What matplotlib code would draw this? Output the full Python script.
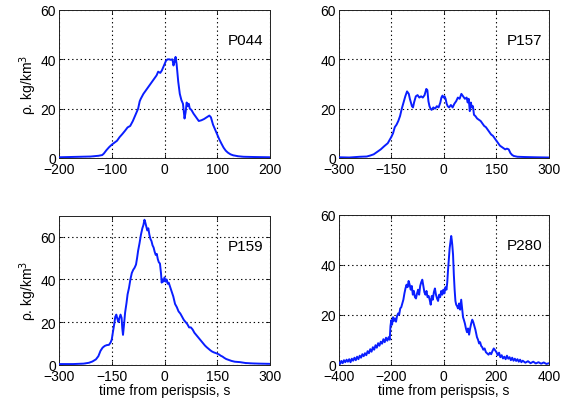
import matplotlib
matplotlib.use("Agg")
import matplotlib.pyplot as plt

plt.rcParams['font.family'] = ['Liberation Sans', 'DejaVu Sans']

titles = ["P044", "P157", "P159", "P280"]
xlims = [(-200, 200), (-300, 300), (-300, 300), (-400, 400)]
xticks = [[-200, -100, 0, 100, 200], [-300, -150, 0, 150, 300],
          [-300, -150, 0, 150, 300], [-400, -200, 0, 200, 400]]
ylims = [(0, 60), (0, 60), (0, 70), (0, 60)]
yticks = [[0, 20, 40, 60], [0, 20, 40, 60], [0, 20, 40, 60], [0, 20, 40, 60]]

p044 = [(-200, 0.3), (-180, 0.4), (-160, 0.5), (-140, 0.6), (-125, 0.9), (-118, 1.2),
        (-115, 1.8), (-110, 3.2), (-105, 4.4), (-100, 5.4), (-95, 6.2), (-90, 7.0),
        (-85, 8.5), (-80, 9.7), (-75, 11.0), (-70, 12.4), (-65, 13.0), (-60, 15.0),
        (-55, 17.5), (-50, 20.0), (-47, 23.0), (-45, 24.0), (-40, 26.0), (-35, 27.5),
        (-30, 29.0), (-25, 30.5), (-20, 32.0), (-15, 33.5), (-12, 35.0), (-8, 34.5),
        (-5, 35.5), (0, 38.0), (3, 39.5), (6, 40.0), (9, 40.0), (12, 39.8), (15, 40.0),
        (17, 37.5), (19, 39.0), (21, 41.0), (23, 38.0), (26, 31.0), (29, 26.0),
        (32, 23.5), (35, 22.0), (38, 16.0), (40, 18.5), (42, 22.5), (44, 21.0),
        (46, 22.0), (48, 20.0), (51, 19.5), (55, 18.0), (60, 16.5), (65, 15.0),
        (70, 15.3), (75, 15.8), (80, 16.5), (85, 17.2), (88, 16.5), (92, 13.5),
        (96, 11.5), (100, 9.5), (104, 7.5), (108, 5.8), (112, 4.2), (116, 3.0),
        (120, 2.2), (125, 1.5), (130, 1.1), (140, 0.7), (150, 0.5), (170, 0.4), (200, 0.3)]

p157 = [(-300, 0.3), (-270, 0.2), (-240, 0.5), (-220, 0.6), (-210, 1.0), (-200, 1.5),
        (-190, 2.5), (-180, 3.5), (-170, 4.8), (-160, 6.0), (-150, 8.5), (-145, 10.0),
        (-140, 12.5), (-135, 13.5), (-130, 15.0), (-125, 17.0), (-120, 20.0), (-115, 22.5),
        (-110, 25.0), (-105, 27.0), (-100, 26.0), (-97, 24.0), (-94, 22.5), (-91, 21.0),
        (-88, 20.5), (-85, 22.5), (-80, 25.0), (-75, 25.5), (-70, 24.5), (-65, 25.0),
        (-60, 24.5), (-55, 25.5), (-50, 28.0), (-47, 27.5), (-44, 23.0), (-41, 21.0),
        (-38, 20.0), (-35, 19.5), (-30, 20.5), (-25, 20.0), (-20, 21.0), (-15, 20.5),
        (-10, 22.5), (-7, 24.5), (-4, 25.3), (-1, 24.5), (2, 25.0), (5, 24.0), (8, 22.0),
        (11, 21.0), (15, 20.5), (20, 21.5), (25, 20.5), (30, 22.0), (35, 23.0),
        (40, 24.5), (45, 24.0), (50, 26.0), (55, 25.0), (60, 24.0), (65, 24.5),
        (68, 22.5), (71, 24.0), (74, 19.0), (77, 22.5), (80, 20.5), (83, 21.0),
        (86, 17.5), (90, 17.0), (95, 16.0), (100, 15.5), (105, 15.0), (110, 14.0),
        (115, 13.0), (120, 12.5), (125, 11.5), (130, 10.5), (135, 9.5), (140, 9.0),
        (145, 8.0), (150, 7.0), (155, 6.0), (160, 5.0), (165, 4.5), (170, 4.0),
        (175, 3.5), (180, 3.8), (185, 3.5), (190, 2.0), (195, 1.2), (200, 0.8),
        (210, 0.5), (230, 0.4), (260, 0.3), (300, 0.2)]

p159 = [(-300, 0.3), (-260, 0.3), (-230, 0.5), (-215, 0.9), (-205, 1.5), (-195, 2.5),
        (-188, 4.0), (-182, 6.5), (-176, 8.0), (-170, 8.8), (-164, 9.2), (-158, 9.3),
        (-153, 10.5), (-150, 11.8), (-146, 16.0), (-143, 19.0), (-140, 22.5), (-137, 23.5),
        (-134, 21.5), (-131, 20.0), (-128, 22.0), (-125, 23.5), (-122, 22.0), (-120, 17.0),
        (-118, 14.0), (-115, 19.0), (-112, 24.5), (-108, 29.0), (-105, 33.0), (-101, 36.0),
        (-97, 40.0), (-93, 43.0), (-89, 44.5), (-85, 45.5), (-81, 47.0), (-78, 50.0),
        (-75, 53.5), (-71, 57.0), (-67, 61.0), (-63, 64.0), (-60, 65.5), (-57, 68.0),
        (-55, 67.0), (-52, 65.0), (-49, 63.0), (-46, 64.0), (-43, 61.0), (-40, 59.0),
        (-37, 58.0), (-34, 56.0), (-31, 55.0), (-28, 53.0), (-25, 51.5), (-22, 52.0),
        (-19, 49.5), (-16, 48.0), (-13, 47.5), (-10, 43.0), (-8, 38.5), (-6, 40.0),
        (-3, 39.0), (0, 41.0), (3, 39.0), (6, 40.0), (9, 38.0), (12, 38.5), (15, 37.0),
        (18, 35.5), (21, 34.0), (25, 32.0), (30, 28.5), (35, 27.0), (40, 25.0),
        (45, 24.0), (50, 22.5), (55, 21.0), (60, 20.0), (65, 19.0), (70, 17.5),
        (75, 17.5), (80, 16.5), (85, 15.0), (90, 14.0), (95, 13.0), (100, 12.0),
        (105, 11.0), (110, 10.0), (115, 9.0), (120, 8.2), (125, 7.5), (130, 6.8),
        (135, 6.2), (140, 5.8), (145, 5.5), (150, 5.2), (155, 4.8), (160, 4.2),
        (165, 3.8), (170, 3.2), (175, 2.7), (180, 2.4), (190, 1.8), (200, 1.4),
        (215, 1.2), (230, 0.8), (250, 0.6), (270, 0.5), (300, 0.4)]

p280 = [(-400, 1.0), (-395, 0.3), (-390, 1.5), (-385, 0.6), (-380, 1.8), (-375, 1.0),
        (-370, 2.0), (-365, 1.2), (-360, 2.2), (-355, 1.0), (-350, 2.4), (-345, 1.6),
        (-340, 2.8), (-335, 1.8), (-330, 3.2), (-325, 2.2), (-320, 3.6), (-315, 2.8),
        (-310, 4.2), (-305, 3.4), (-300, 4.6), (-295, 3.8), (-290, 5.4), (-285, 4.6),
        (-280, 6.2), (-275, 5.2), (-270, 7.0), (-265, 6.0), (-260, 7.8), (-255, 6.8),
        (-250, 8.6), (-245, 7.6), (-240, 9.2), (-235, 8.4), (-230, 10.2), (-225, 9.0),
        (-220, 10.8), (-215, 9.6), (-210, 11.0), (-206, 10.0), (-203, 15.5), (-200, 17.8),
        (-197, 16.0), (-193, 19.0), (-190, 17.5), (-186, 18.5), (-182, 17.2), (-178, 19.5),
        (-174, 20.5), (-170, 20.0), (-166, 22.5), (-162, 23.0), (-158, 24.5), (-154, 26.0),
        (-150, 28.5), (-146, 30.5), (-142, 32.0), (-138, 31.0), (-134, 33.5), (-130, 32.0),
        (-126, 30.0), (-122, 31.5), (-118, 28.0), (-114, 29.5), (-110, 27.0), (-106, 26.5),
        (-102, 28.5), (-98, 30.0), (-94, 28.0), (-90, 31.5), (-86, 33.0), (-82, 34.0),
        (-78, 31.5), (-74, 29.0), (-70, 28.0), (-66, 29.5), (-62, 27.0), (-58, 27.5),
        (-54, 26.0), (-50, 24.0), (-46, 27.5), (-42, 26.0), (-38, 29.0), (-34, 30.5),
        (-30, 28.0), (-26, 26.5), (-22, 25.5), (-18, 28.0), (-14, 27.0), (-10, 29.5),
        (-6, 28.0), (-2, 30.0), (2, 28.5), (6, 31.0), (10, 30.0), (13, 33.0), (16, 38.0),
        (19, 42.0), (22, 46.5), (25, 49.0), (28, 51.5), (30, 50.0), (32, 48.0),
        (35, 44.0), (38, 36.0), (41, 30.0), (44, 25.5), (47, 24.0), (50, 23.5),
        (54, 22.5), (58, 24.5), (62, 22.0), (66, 26.0), (70, 22.0), (73, 19.0),
        (76, 18.0), (80, 16.5), (84, 14.5), (88, 13.0), (92, 14.5), (96, 12.0),
        (100, 14.5), (104, 16.5), (108, 18.0), (112, 17.0), (116, 15.5), (120, 14.0),
        (123, 12.5), (126, 11.0), (130, 10.0), (134, 8.5), (138, 9.0), (142, 7.5),
        (146, 7.0), (150, 6.0), (155, 6.5), (160, 5.0), (165, 4.5), (170, 4.0),
        (175, 4.8), (180, 4.2), (185, 5.5), (190, 6.5), (195, 5.8), (200, 5.0),
        (205, 3.8), (210, 4.8), (215, 3.0), (220, 3.8), (225, 2.5), (230, 3.2),
        (235, 2.2), (240, 3.6), (245, 2.4), (250, 3.0), (255, 1.8), (260, 2.8),
        (265, 1.6), (270, 2.4), (275, 1.5), (280, 2.2), (285, 1.2), (290, 2.0),
        (295, 1.0), (300, 1.6), (310, 0.8), (320, 1.4), (330, 0.6), (340, 1.2),
        (350, 0.5), (360, 1.0), (370, 0.4), (380, 0.9), (390, 0.3), (400, 0.6)]

series = [p044, p157, p159, p280]

fig = plt.figure(figsize=(5.64, 4.02), dpi=100)
W, H = 564.0, 402.0
boxes = [(59, 11, 270, 159), (338.7, 11, 549, 159),
         (59, 216.5, 270, 365.7), (338.7, 215.7, 549, 365.7)]

line_color = '#0a1eff'
for i in range(4):
    x0, y0, x1, y1 = boxes[i]
    ax = fig.add_axes([x0 / W, 1 - y1 / H, (x1 - x0) / W, (y1 - y0) / H])
    t = [p[0] for p in series[i]]
    r = [p[1] for p in series[i]]
    ax.plot(t, r, color=line_color, lw=1.4, zorder=3)
    ax.set_xlim(*xlims[i])
    ax.set_ylim(*ylims[i])
    ax.set_xticks(xticks[i])
    ax.set_yticks(yticks[i])
    ax.grid(True, color='black', linestyle=(0, (1.2, 2.6)), linewidth=0.8)
    ax.tick_params(direction='in', length=3, labelsize=10,
                   top=True, right=True, width=0.6)
    ax.tick_params(axis='x', pad=3)
    ax.tick_params(axis='y', pad=2)
    for s in ax.spines.values():
        s.set_linewidth(0.7)
        s.set_color('#222222')
    ax.text(0.80, 0.795, titles[i], transform=ax.transAxes, fontsize=11,
            va='center', ha='left')
    if i % 2 == 0:
        ax.set_ylabel(r'ρ. kg/km$^3$', fontsize=10, labelpad=1)
    if i >= 2:
        ax.set_xlabel('time from perispsis, s', fontsize=10, labelpad=0)

fig.savefig('out.png', dpi=100)
